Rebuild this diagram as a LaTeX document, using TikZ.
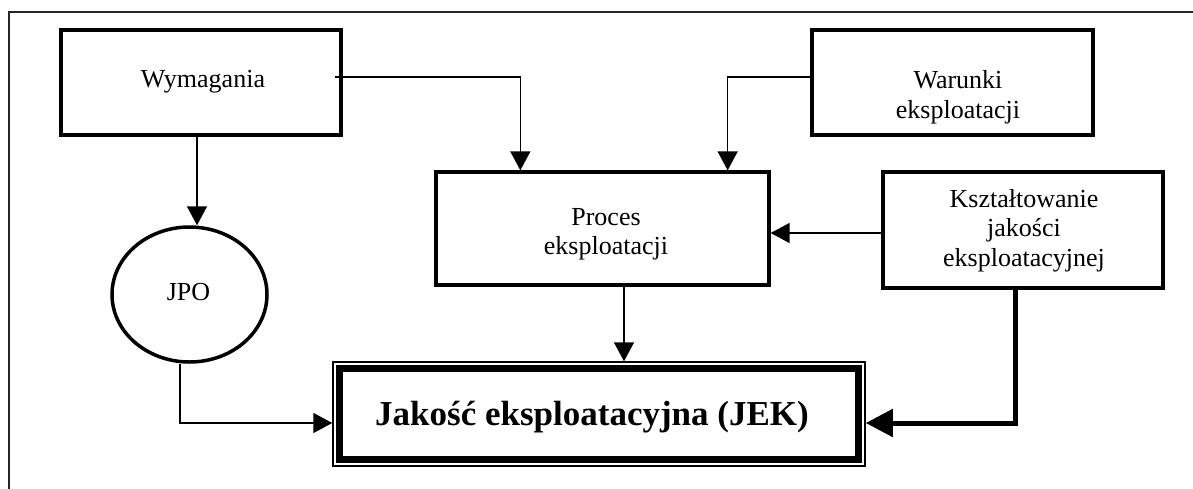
\documentclass[tikz,border=0pt]{standalone}
\usepackage{fontspec}
\setmainfont{Liberation Serif}
\usetikzlibrary{arrows.meta,calc,shapes.geometric}

\begin{document}
\begin{tikzpicture}[x=1pt,y=-1pt,
  box/.style={draw,line width=3.3pt,rectangle,inner sep=0pt},
  oval/.style={draw,line width=3.5pt,ellipse,inner sep=0pt},
  txt/.style={align=center,inner sep=0pt,font=\fontsize{26}{29.5}\selectfont},
  link/.style={line width=1.5pt,-{Triangle[length=19pt,width=20pt]}},
  heavylink/.style={line width=5pt,-{Triangle[length=27pt,width=27pt]}},
  frameline/.style={line width=1.6pt,draw=black!85}
]
\useasboundingbox (0,0) rectangle (1193,488);

% page frame (only its top and left sides fall inside the picture)
\draw[frameline] (9,500) -- (9,12) -- (1205,12);

% boxes
\node[box,minimum width=280,minimum height=105] (wym) at (201,82.5) {};
\node[txt] (wymT) at (203,81.5) {Wymagania};

\node[box,minimum width=281,minimum height=105] (war) at (952.5,82.5) {};
\node[txt] (warT) at (958,97) {Warunki\\eksploatacji};

\node[box,minimum width=333,minimum height=113] (proc) at (602.5,228.5) {};
\node[txt] (procT) at (606,234) {Proces\\eksploatacji};

\node[box,minimum width=280,minimum height=116] (kszt) at (1023,230) {};
\node[txt] (ksztT) at (1024,230.5) {Kształtowanie\\jakości\\eksploatacyjnej};

\node[oval,minimum width=155,minimum height=135] (jpo) at (189.5,294.5) {};
\node[txt] (jpoT) at (188.5,292) {JPO};

% result box with a double frame: thin outer line, heavy inner line
\node[draw,line width=1.5pt,rectangle,inner sep=0pt,minimum width=532,minimum height=104] (jek) at (599,414) {};
\draw[line width=7pt] ($(jek.north west)+(7.25,7.25)$) rectangle ($(jek.south east)+(-7.25,-7.25)$);
\node[inner sep=0pt,font=\fontsize{35}{40}\selectfont\bfseries] (jekT) at (592,417) {Jakość eksploatacyjna (JEK)};

% connectors
\coordinate (ksztOut) at ($(kszt.west)+(0,3)$);
\draw[link] ($(wym.east)+(-8,-5.5)$) -| ($(proc.north west)+(86,0)$);
\draw[link] ($(war.west)+(0,-5.5)$) -| ($(proc.north east)+(-43,0)$);
\draw[link] (ksztOut) -- (ksztOut -| proc.east);
\draw[link] ($(proc.south)+(21.5,0)$) -- ($(jek.north)+(25,0)$);
\draw[link] ($(wym.south)+(-4,0)$) -- ($(jpo.north)+(7.5,0)$);
\draw[link] ($(jpo.south)+(-9.5,0)$) |- ($(jek.west)+(0,9)$);
\draw[heavylink] ($(kszt.south)+(-8,0)$) |- ($(jek.east)+(0,9)$);
\end{tikzpicture}
\end{document}
